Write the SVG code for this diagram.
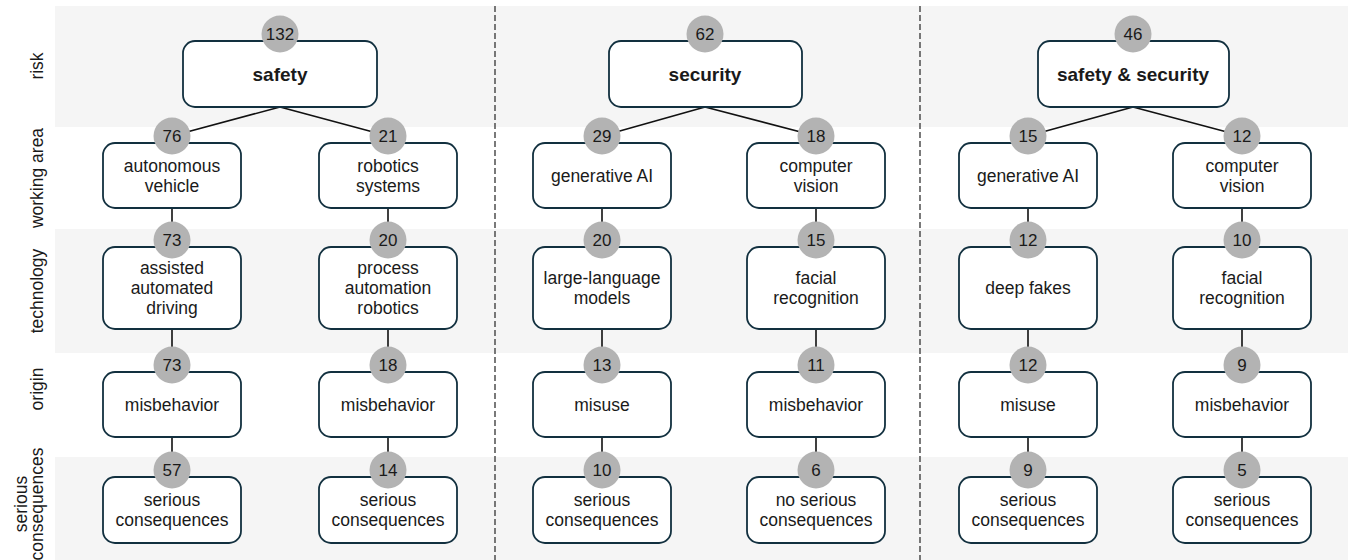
<svg xmlns="http://www.w3.org/2000/svg" width="1348" height="560" viewBox="0 0 1348 560">
<style>
text{font-family:"Liberation Sans",Arial,sans-serif;fill:#1a1a1a;text-anchor:middle}
.t{font-size:17.5px}
.b{font-size:19px;font-weight:bold}
.n{font-size:17px}
.s{font-size:17.5px}
.box{fill:#fff;stroke:#12303f;stroke-width:1.8}
.bd{fill:#b3b3b3}
.band{fill:#f5f5f5}
.sep{stroke:#333;stroke-width:1.3;stroke-dasharray:6 3}
.c{stroke:#111;stroke-width:1.6;fill:none}
</style>
<g id="bands">
<rect class="band" x="55" y="6" width="1293" height="121"/>
<rect class="band" x="55" y="229" width="1293" height="124"/>
<rect class="band" x="55" y="457" width="1293" height="103"/>
</g>
<g id="row-labels">
<text class="s" transform="translate(43,66) rotate(-90)">risk</text>
<text class="s" transform="translate(43,178) rotate(-90)">working area</text>
<text class="s" transform="translate(43,291) rotate(-90)">technology</text>
<text class="s" transform="translate(43,389) rotate(-90)">origin</text>
<text class="s" transform="translate(27,504) rotate(-90)">serious</text>
<text class="s" transform="translate(43,504) rotate(-90)">consequences</text>
</g>
<g id="separators">
<line class="sep" x1="495" y1="6" x2="495" y2="560"/>
<line class="sep" x1="920" y1="6" x2="920" y2="560"/>
</g>
<g id="connectors">
<path class="c" d="M280 107L172 136M280 107L388 136M705 107L602 136M705 107L816 136M1133 107L1028 136M1133 107L1242 136"/>
<path class="c" d="M172 208V240M172 329V365M172 437V470"/>
<path class="c" d="M388 208V240M388 329V365M388 437V470"/>
<path class="c" d="M602 208V240M602 329V365M602 437V470"/>
<path class="c" d="M816 208V240M816 329V365M816 437V470"/>
<path class="c" d="M1028 208V240M1028 329V365M1028 437V470"/>
<path class="c" d="M1242 208V240M1242 329V365M1242 437V470"/>
</g>
<g id="risk-safety"><rect class="box" x="183" y="41" width="194" height="66" rx="12"/><circle class="bd" cx="280" cy="34" r="18.5"/><text class="n" x="280" y="40">132</text><text class="b" x="280" y="81">safety</text></g>
<g id="risk-security"><rect class="box" x="609" y="41" width="193" height="66" rx="12"/><circle class="bd" cx="705" cy="34" r="18.5"/><text class="n" x="705" y="40">62</text><text class="b" x="705" y="81">security</text></g>
<g id="risk-both"><rect class="box" x="1038" y="41" width="191" height="66" rx="12"/><circle class="bd" cx="1133" cy="34" r="18.5"/><text class="n" x="1133" y="40">46</text><text class="b" x="1133" y="81">safety &amp; security</text></g>

<g id="wa1"><rect class="box" x="103" y="143" width="138" height="65" rx="12"/><circle class="bd" cx="172" cy="136" r="18.5"/><text class="n" x="172" y="142">76</text><text class="t" x="172" y="172">autonomous</text><text class="t" x="172" y="192">vehicle</text></g>
<g id="wa2"><rect class="box" x="319" y="143" width="138" height="65" rx="12"/><circle class="bd" cx="388" cy="136" r="18.5"/><text class="n" x="388" y="142">21</text><text class="t" x="388" y="172">robotics</text><text class="t" x="388" y="192">systems</text></g>
<g id="wa3"><rect class="box" x="533" y="143" width="138" height="65" rx="12"/><circle class="bd" cx="602" cy="136" r="18.5"/><text class="n" x="602" y="142">29</text><text class="t" x="602" y="182">generative AI</text></g>
<g id="wa4"><rect class="box" x="747" y="143" width="138" height="65" rx="12"/><circle class="bd" cx="816" cy="136" r="18.5"/><text class="n" x="816" y="142">18</text><text class="t" x="816" y="172">computer</text><text class="t" x="816" y="192">vision</text></g>
<g id="wa5"><rect class="box" x="959" y="143" width="138" height="65" rx="12"/><circle class="bd" cx="1028" cy="136" r="18.5"/><text class="n" x="1028" y="142">15</text><text class="t" x="1028" y="182">generative AI</text></g>
<g id="wa6"><rect class="box" x="1173" y="143" width="138" height="65" rx="12"/><circle class="bd" cx="1242" cy="136" r="18.5"/><text class="n" x="1242" y="142">12</text><text class="t" x="1242" y="172">computer</text><text class="t" x="1242" y="192">vision</text></g>

<g id="te1"><rect class="box" x="103" y="247" width="138" height="82" rx="12"/><circle class="bd" cx="172" cy="240" r="18.5"/><text class="n" x="172" y="246">73</text><text class="t" x="172" y="274">assisted</text><text class="t" x="172" y="294">automated</text><text class="t" x="172" y="314">driving</text></g>
<g id="te2"><rect class="box" x="319" y="247" width="138" height="82" rx="12"/><circle class="bd" cx="388" cy="240" r="18.5"/><text class="n" x="388" y="246">20</text><text class="t" x="388" y="274">process</text><text class="t" x="388" y="294">automation</text><text class="t" x="388" y="314">robotics</text></g>
<g id="te3"><rect class="box" x="533" y="247" width="138" height="82" rx="12"/><circle class="bd" cx="602" cy="240" r="18.5"/><text class="n" x="602" y="246">20</text><text class="t" x="602" y="284">large-language</text><text class="t" x="602" y="304">models</text></g>
<g id="te4"><rect class="box" x="747" y="247" width="138" height="82" rx="12"/><circle class="bd" cx="816" cy="240" r="18.5"/><text class="n" x="816" y="246">15</text><text class="t" x="816" y="284">facial</text><text class="t" x="816" y="304">recognition</text></g>
<g id="te5"><rect class="box" x="959" y="247" width="138" height="82" rx="12"/><circle class="bd" cx="1028" cy="240" r="18.5"/><text class="n" x="1028" y="246">12</text><text class="t" x="1028" y="294">deep fakes</text></g>
<g id="te6"><rect class="box" x="1173" y="247" width="138" height="82" rx="12"/><circle class="bd" cx="1242" cy="240" r="18.5"/><text class="n" x="1242" y="246">10</text><text class="t" x="1242" y="284">facial</text><text class="t" x="1242" y="304">recognition</text></g>

<g id="or1"><rect class="box" x="103" y="372" width="138" height="65" rx="12"/><circle class="bd" cx="172" cy="365" r="18.5"/><text class="n" x="172" y="371">73</text><text class="t" x="172" y="411">misbehavior</text></g>
<g id="or2"><rect class="box" x="319" y="372" width="138" height="65" rx="12"/><circle class="bd" cx="388" cy="365" r="18.5"/><text class="n" x="388" y="371">18</text><text class="t" x="388" y="411">misbehavior</text></g>
<g id="or3"><rect class="box" x="533" y="372" width="138" height="65" rx="12"/><circle class="bd" cx="602" cy="365" r="18.5"/><text class="n" x="602" y="371">13</text><text class="t" x="602" y="411">misuse</text></g>
<g id="or4"><rect class="box" x="747" y="372" width="138" height="65" rx="12"/><circle class="bd" cx="816" cy="365" r="18.5"/><text class="n" x="816" y="371">11</text><text class="t" x="816" y="411">misbehavior</text></g>
<g id="or5"><rect class="box" x="959" y="372" width="138" height="65" rx="12"/><circle class="bd" cx="1028" cy="365" r="18.5"/><text class="n" x="1028" y="371">12</text><text class="t" x="1028" y="411">misuse</text></g>
<g id="or6"><rect class="box" x="1173" y="372" width="138" height="65" rx="12"/><circle class="bd" cx="1242" cy="365" r="18.5"/><text class="n" x="1242" y="371">9</text><text class="t" x="1242" y="411">misbehavior</text></g>

<g id="sc1"><rect class="box" x="103" y="477" width="138" height="66" rx="12"/><circle class="bd" cx="172" cy="470" r="18.5"/><text class="n" x="172" y="476">57</text><text class="t" x="172" y="506">serious</text><text class="t" x="172" y="526">consequences</text></g>
<g id="sc2"><rect class="box" x="319" y="477" width="138" height="66" rx="12"/><circle class="bd" cx="388" cy="470" r="18.5"/><text class="n" x="388" y="476">14</text><text class="t" x="388" y="506">serious</text><text class="t" x="388" y="526">consequences</text></g>
<g id="sc3"><rect class="box" x="533" y="477" width="138" height="66" rx="12"/><circle class="bd" cx="602" cy="470" r="18.5"/><text class="n" x="602" y="476">10</text><text class="t" x="602" y="506">serious</text><text class="t" x="602" y="526">consequences</text></g>
<g id="sc4"><rect class="box" x="747" y="477" width="138" height="66" rx="12"/><circle class="bd" cx="816" cy="470" r="18.5"/><text class="n" x="816" y="476">6</text><text class="t" x="816" y="506">no serious</text><text class="t" x="816" y="526">consequences</text></g>
<g id="sc5"><rect class="box" x="959" y="477" width="138" height="66" rx="12"/><circle class="bd" cx="1028" cy="470" r="18.5"/><text class="n" x="1028" y="476">9</text><text class="t" x="1028" y="506">serious</text><text class="t" x="1028" y="526">consequences</text></g>
<g id="sc6"><rect class="box" x="1173" y="477" width="138" height="66" rx="12"/><circle class="bd" cx="1242" cy="470" r="18.5"/><text class="n" x="1242" y="476">5</text><text class="t" x="1242" y="506">serious</text><text class="t" x="1242" y="526">consequences</text></g>
</svg>
